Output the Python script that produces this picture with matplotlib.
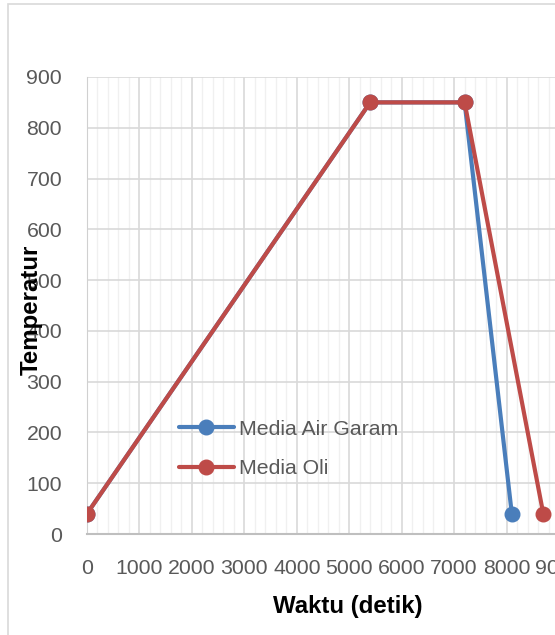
import matplotlib
matplotlib.use("Agg")
import matplotlib.pyplot as plt
from matplotlib.patches import Rectangle
from matplotlib.ticker import MultipleLocator

# Data
waktu_air_garam = [0, 5400, 7200, 8100]
suhu_air_garam = [40, 850, 850, 40]
waktu_oli = [0, 5400, 7200, 8700]
suhu_oli = [40, 850, 850, 40]
x_ticks = [0, 1000, 2000, 3000, 4000, 5000, 6000, 7000, 8000, 9000]
y_ticks = [0, 100, 200, 300, 400, 500, 600, 700, 800, 900]
series_names = ["Media Air Garam", "Media Oli"]

W, H = 555, 635
fig = plt.figure(figsize=(W / 100, H / 100), dpi=100)
plt.rcParams['font.family'] = ['Liberation Sans', 'DejaVu Sans']

# chart border
fig.patches.append(Rectangle((8 / W, 1 - 640 / H), (560 - 8) / W, (640 - 4) / H,
                             transform=fig.transFigure, fill=False,
                             edgecolor='#D9D9D9', linewidth=1.2))

left, right, top, bottom = 87, 559, 77, 534
ax = fig.add_axes([left / W, 1 - bottom / H, (right - left) / W, (bottom - top) / H])

blue = '#4A7EBB'
red = '#BE4B48'
ax.plot(waktu_air_garam, suhu_air_garam, color=blue, lw=3, marker='o', ms=10.5,
        label=series_names[0], zorder=3, solid_capstyle='round')
ax.plot(waktu_oli, suhu_oli, color=red, lw=3, marker='o', ms=10.5,
        label=series_names[1], zorder=4, solid_capstyle='round')

ax.set_xlim(0, 9000)
ax.set_ylim(0, 900)
ax.set_xticks(x_ticks)
ax.set_yticks(y_ticks)
ax.xaxis.set_minor_locator(MultipleLocator(200))
ax.grid(which='major', axis='both', color='#D9D9D9', lw=1.2, zorder=0)
ax.grid(which='minor', axis='x', color='#F0F0F0', lw=1.0, zorder=0)
ax.set_axisbelow(True)

for s in ['top', 'right']:
    ax.spines[s].set_visible(False)
ax.spines['left'].set_color('#D0D0D0')
ax.spines['bottom'].set_color('#BFBFBF')
ax.spines['bottom'].set_linewidth(1.5)

ax.tick_params(axis='both', which='both', length=0, labelsize=15.3, labelcolor='#595959')
ax.tick_params(axis='x', pad=18)
ax.tick_params(axis='y', pad=18)

ax.set_xlabel('Waktu (detik)', fontsize=17.3, fontweight='bold', color='black')
ax.xaxis.set_label_coords((348 - left) / (right - left), -(607 - bottom) / (bottom - top))
ax.xaxis.label.set_va('center')
ax.set_ylabel('Temperatur', fontsize=17.3, fontweight='bold', color='black')
ax.yaxis.set_label_coords(-(left - 31) / (right - left), (bottom - 310) / (bottom - top))
ax.yaxis.label.set_va('center')

leg = ax.legend(loc='center left', frameon=False, fontsize=15.3, labelcolor='#595959',
                bbox_to_anchor=((168 - left) / (right - left), (bottom - 449) / (bottom - top)),
                handlelength=2.6, handletextpad=0.25, labelspacing=0.95, borderpad=0)

fig.savefig('out.png', dpi=100)
